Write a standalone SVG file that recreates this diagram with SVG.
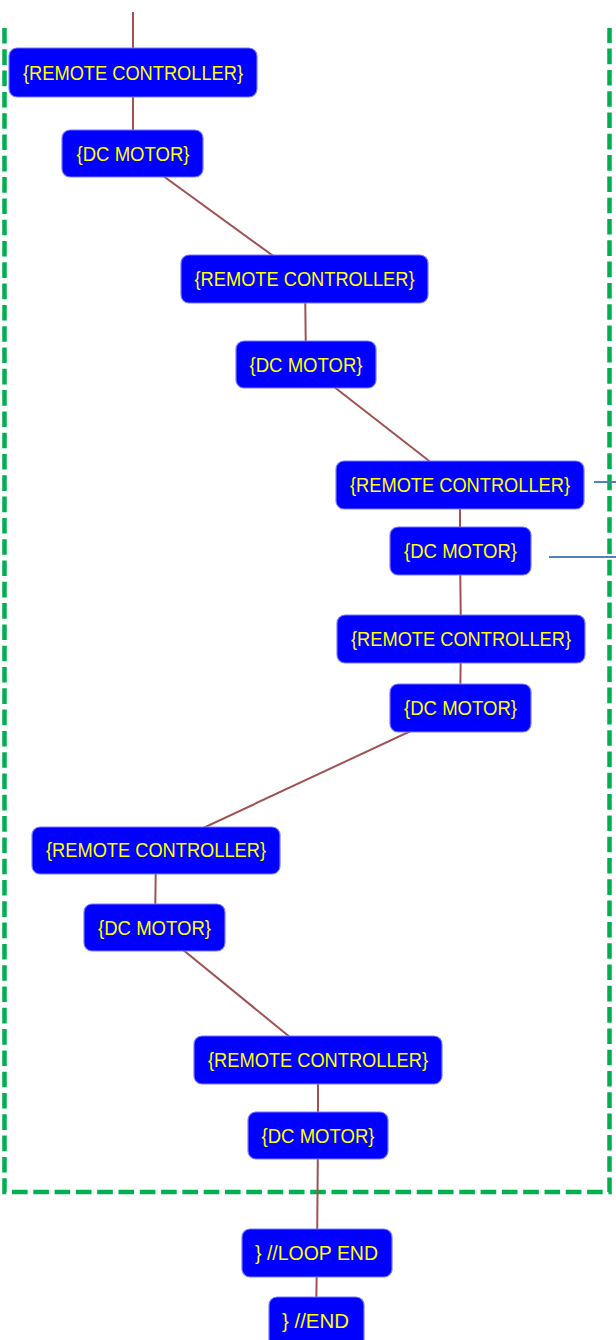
<svg xmlns="http://www.w3.org/2000/svg" width="616" height="1340" viewBox="0 0 616 1340">
<style>
.n rect{fill:#0000ff;stroke:#7b7bff;stroke-width:1.2}
.n text{fill:#ffff00;font-family:"Liberation Sans",Arial,sans-serif;font-size:20px;text-anchor:middle}
.c line{stroke:#a05252;stroke-width:2}
.b line{stroke:#4f81bd;stroke-width:2}
</style>
<rect width="616" height="1340" fill="#ffffff"/>
<path d="M4.5,28 V1192 H609.5 V28" fill="none" stroke="#00b050" stroke-width="4.5" stroke-dasharray="15.6 5.7"/>
<g id="connectors" class="c">
<line x1="133" y1="12" x2="133" y2="73"/>
<line x1="133" y1="73" x2="133" y2="154"/>
<line x1="133" y1="154" x2="305" y2="279"/>
<line x1="305" y1="279" x2="306" y2="365"/>
<line x1="306" y1="365" x2="460" y2="485"/>
<line x1="460" y1="485" x2="460" y2="551"/>
<line x1="460" y1="551" x2="461" y2="639"/>
<line x1="461" y1="639" x2="460" y2="708"/>
<line x1="460" y1="708" x2="156" y2="850"/>
<line x1="156" y1="850" x2="155" y2="927"/>
<line x1="155" y1="927" x2="318" y2="1060"/>
<line x1="318" y1="1060" x2="318" y2="1136"/>
<line x1="318" y1="1136" x2="317" y2="1253"/>
<line x1="317" y1="1253" x2="316" y2="1320"/>
</g>
<g id="side-lines" class="b">
<line x1="594" y1="482" x2="616" y2="482"/>
<line x1="549" y1="557" x2="616" y2="557"/>
</g>
<g id="n1" class="n"><rect x="9" y="48" width="248" height="49" rx="8"/><text x="133" y="80" textLength="220" lengthAdjust="spacingAndGlyphs">{REMOTE CONTROLLER}</text></g>
<g id="n2" class="n"><rect x="62" y="130" width="141" height="47" rx="8"/><text x="133" y="161" textLength="113" lengthAdjust="spacingAndGlyphs">{DC MOTOR}</text></g>
<g id="n3" class="n"><rect x="181" y="255" width="247" height="48" rx="8"/><text x="304.5" y="286" textLength="220" lengthAdjust="spacingAndGlyphs">{REMOTE CONTROLLER}</text></g>
<g id="n4" class="n"><rect x="236" y="341" width="140" height="47" rx="8"/><text x="306" y="372" textLength="113" lengthAdjust="spacingAndGlyphs">{DC MOTOR}</text></g>
<g id="n5" class="n"><rect x="336" y="461" width="248" height="48" rx="8"/><text x="460" y="492" textLength="220" lengthAdjust="spacingAndGlyphs">{REMOTE CONTROLLER}</text></g>
<g id="n6" class="n"><rect x="390" y="527" width="141" height="48" rx="8"/><text x="460.5" y="558" textLength="113" lengthAdjust="spacingAndGlyphs">{DC MOTOR}</text></g>
<g id="n7" class="n"><rect x="337" y="615" width="248" height="48" rx="8"/><text x="461" y="646" textLength="220" lengthAdjust="spacingAndGlyphs">{REMOTE CONTROLLER}</text></g>
<g id="n8" class="n"><rect x="390" y="684" width="141" height="48" rx="8"/><text x="460.5" y="715" textLength="113" lengthAdjust="spacingAndGlyphs">{DC MOTOR}</text></g>
<g id="n9" class="n"><rect x="32" y="827" width="248" height="47" rx="8"/><text x="156" y="857" textLength="220" lengthAdjust="spacingAndGlyphs">{REMOTE CONTROLLER}</text></g>
<g id="n10" class="n"><rect x="84" y="904" width="141" height="47" rx="8"/><text x="154.5" y="935" textLength="113" lengthAdjust="spacingAndGlyphs">{DC MOTOR}</text></g>
<g id="n11" class="n"><rect x="194" y="1036" width="248" height="48" rx="8"/><text x="318" y="1067" textLength="220" lengthAdjust="spacingAndGlyphs">{REMOTE CONTROLLER}</text></g>
<g id="n12" class="n"><rect x="248" y="1112" width="140" height="47" rx="8"/><text x="318" y="1143" textLength="113" lengthAdjust="spacingAndGlyphs">{DC MOTOR}</text></g>
<g id="n13" class="n"><rect x="242" y="1229" width="150" height="48" rx="8"/><text x="316.5" y="1260" textLength="123" lengthAdjust="spacingAndGlyphs">} //LOOP END</text></g>
<g id="n14" class="n"><rect x="269" y="1297" width="95" height="60" rx="8"/><text x="315.5" y="1328" textLength="67" lengthAdjust="spacingAndGlyphs">} //END</text></g>
</svg>
